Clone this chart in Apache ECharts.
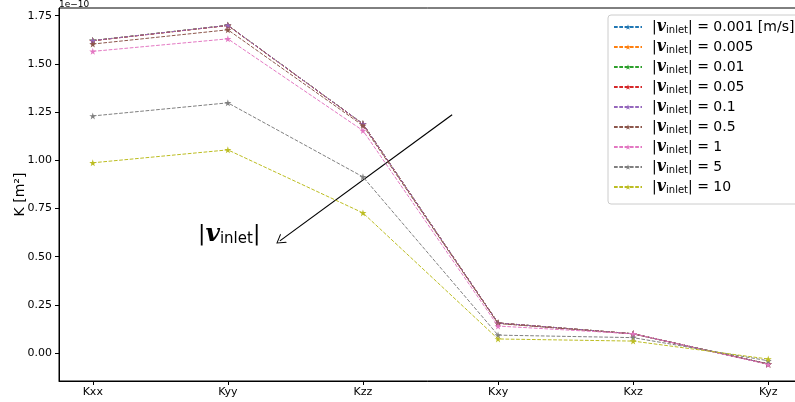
<!DOCTYPE html>
<html><head><meta charset="utf-8">
<script src="https://cdn.jsdelivr.net/npm/echarts@6/dist/echarts.min.js"></script>
<style>html,body{margin:0;padding:0;background:#fff}#c{width:795px;height:402px}</style>
</head><body><div id="c"></div>
<script>
const categories = ['Kxx','Kyy','Kzz','Kxy','Kxz','Kyz'];
const velocityLabels = ['0.001 [m/s]','0.005','0.01','0.05','0.1','0.5','1','5','10'];
const colors = ['#1f77b4','#ff7f0e','#2ca02c','#d62728','#9467bd','#8c564b','#e377c2','#7f7f7f','#bcbd22'];
// values in units of 1e-10 m^2
const k_0001 = [1.621, 1.700, 1.189, 0.156, 0.100, -0.057];
const k_0005 = [1.621, 1.700, 1.189, 0.156, 0.100, -0.057];
const k_001  = [1.621, 1.700, 1.189, 0.156, 0.100, -0.057];
const k_005  = [1.620, 1.699, 1.188, 0.156, 0.100, -0.057];
const k_01   = [1.621, 1.700, 1.189, 0.156, 0.100, -0.057];
const k_05   = [1.603, 1.677, 1.180, 0.153, 0.099, -0.056];
const k_1    = [1.565, 1.630, 1.154, 0.140, 0.100, -0.059];
const k_5    = [1.230, 1.298, 0.914, 0.093, 0.080, -0.040];
const k_10   = [0.987, 1.054, 0.727, 0.073, 0.062, -0.031];
const seriesValues = [k_0001,k_0005,k_001,k_005,k_01,k_05,k_1,k_5,k_10];
const yTicks = [0, 0.25, 0.5, 0.75, 1.0, 1.25, 1.5, 1.75];
const arrowStart = [2.66, 1.236];
const arrowEnd = [1.385, 0.582];

const star = 'path://M50,0 L61,35 L98,35 L68,57 L79,91 L50,70 L21,91 L32,57 L2,35 L39,35 Z';
const openArrow = 'path://M50,0 L100,100 L90,100 L50,20 L10,100 L0,100 Z';
const xIdx = categories.map((c,i)=>i);

const series = seriesValues.map((vals,si)=>({
  name: velocityLabels[si],
  type: 'line',
  data: vals.map((v,i)=>[i,v]),
  symbol: star,
  symbolSize: 7,
  showSymbol: true,
  animation: false,
  itemStyle: {color: colors[si]},
  lineStyle: {color: colors[si], width: 1, type: [3.7,1.6]},
  emphasis: {disabled: true},
  z: 2 + si
}));
series.push({
  type: 'line', data: [], silent: true, z: 20,
  markLine: {
    silent: true, animation: false,
    symbol: ['none', openArrow], symbolSize: [11, 9],
    lineStyle: {color: '#000', width: 1.2, type: 'solid'},
    itemStyle: {color: '#000'},
    label: {show: false},
    data: [[{coord: arrowStart},{coord: arrowEnd}]]
  }
});

const chart = echarts.init(document.getElementById('c'), null, {renderer:'canvas'});
const rich = {
  sp: {width: 5},
  v: {fontFamily:'DejaVu Serif', fontStyle:'italic', fontWeight:'bold', fontSize:16, color:'#000'},
  sub: {fontFamily:'DejaVu Sans', fontSize:10, color:'#000', padding:[7,0,0,0]},
};
chart.setOption({
  animation: false,
  grid: {left: 59, top: 8, right: -7, bottom: 21, show: true, borderColor: '#000', borderWidth: 1, outerBoundsMode: 'none', containLabel: false},
  xAxis: {
    type: 'value', min: -0.25, max: 5.25,
    axisLine: {show: true, onZero: false, lineStyle: {color:'#000', width: 1}},
    axisTick: {show: true, customValues: xIdx, length: 4, lineStyle:{color:'#000'}},
    axisLabel: {customValues: xIdx, formatter: v => categories[Math.round(v)], color:'#000', fontFamily:'DejaVu Sans', fontSize: 11, margin: 6},
    splitLine: {show: false}
  },
  yAxis: {
    type: 'value', min: -0.145, max: 1.79,
    name: 'K [m²]', nameLocation: 'middle', nameGap: 39, nameMoveOverlap: false,
    nameTextStyle: {color:'#000', fontFamily:'DejaVu Sans', fontSize: 14, verticalAlign: 'middle'},
    axisLine: {show: true, onZero: false, lineStyle: {color:'#000', width: 1}},
    axisTick: {show: true, customValues: yTicks, length: 4, lineStyle:{color:'#000'}},
    axisLabel: {customValues: yTicks, formatter: v => v.toFixed(2), color:'#000', fontFamily:'DejaVu Sans', fontSize: 11, margin: 7},
    splitLine: {show: false}
  },
  legend: {
    orient: 'vertical', left: 608, top: 15,
    data: velocityLabels,
    itemWidth: 28, itemHeight: 7, itemGap: 2,
    padding: [3, 4, 8, 5],
    backgroundColor: '#fff',
    borderColor: '#ccc', borderWidth: 1, borderRadius: 3,
    formatter: name => '{sp|}|{v|v}{sub|inlet}| = ' + name,
    textStyle: {fontFamily:'DejaVu Sans', fontSize: 14, color:'#000', lineHeight: 18, rich: rich},
    selectedMode: false
  },
  graphic: [
    {type:'text', left: 59, top: 0, style:{text:'1e\u221210', font:'9px "DejaVu Sans"', fill:'#000'}},
    {type:'text', left: 198, top: 222, style:{
      text: '|{v|v}{sub|inlet}|',
      font: '22px "DejaVu Sans"', fill:'#000',
      rich: {
        v: {fontFamily:'DejaVu Serif', fontStyle:'italic', fontWeight:'bold', fontSize:25, fill:'#000'},
        sub: {fontFamily:'DejaVu Sans', fontSize:15, fill:'#000', padding:[9,0,0,0]}
      }
    }}
  ],
  series: series
});
</script></body></html>
